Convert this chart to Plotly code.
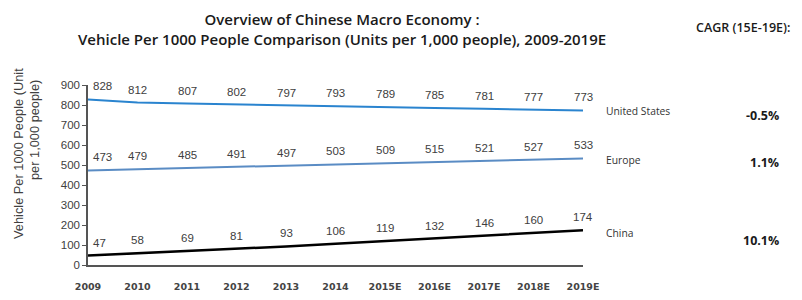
import plotly.graph_objects as go

years = ["2009", "2010", "2011", "2012", "2013", "2014", "2015E", "2016E", "2017E", "2018E", "2019E"]
us = [828, 812, 807, 802, 797, 793, 789, 785, 781, 777, 773]
europe = [473, 479, 485, 491, 497, 503, 509, 515, 521, 527, 533]
china = [47, 58, 69, 81, 93, 106, 119, 132, 146, 160, 174]
series_names = ["United States", "Europe", "China"]
cagr = ["-0.5%", "1.1%", "10.1%"]
y_ticks = list(range(0, 1000, 100))
title_lines = ["Overview of Chinese Macro Economy :",
               "Vehicle Per 1000 People Comparison (Units per 1,000 people), 2009-2019E"]
ytitle_lines = ["Vehicle Per 1000 People (Unit", "per 1,000 people)"]

# page body has an 8px margin; figure is sized to fill the rest of the window
OFF = 8
W, H = 802 - OFF, 300 - OFF
L = 88 - OFF
R = W - (583 - OFF)
T = 85 - OFF
B = H - (265 - OFF)
pw, ph = W - L - R, H - T - B

def px(x):
    return (x - OFF - L) / pw

def py(y):
    return (H - B - (y - OFF)) / ph

xs = list(range(len(years)))

fig = go.Figure()
annotations = []
for vals, col, lw in [(us, "#2a84cf", 2), (europe, "#5a8cc4", 2), (china, "#000000", 2.5)]:
    fig.add_trace(go.Scatter(
        x=xs, y=vals, mode="lines",
        line=dict(color=col, width=lw),
        showlegend=False, hoverinfo="skip",
    ))
    for i, v in enumerate(vals):
        first = i == 0
        annotations.append(dict(
            x=xs[i], y=v, xref="x", yref="y", text=str(v), showarrow=False,
            xanchor="left" if first else "center", xshift=3 if first else 0,
            yanchor="middle", yshift=13,
            font=dict(family="Liberation Sans", size=11.5, color="#404040"),
        ))

# title: one two-line text block anchored at the top of the figure
annotations.append(dict(x=px(342), y=py(OFF), xref="paper", yref="paper",
                        text="<br>".join(title_lines),
                        showarrow=False, font=dict(family="Open Sans", size=15, color="#1a1a1a", weight=600),
                        xanchor="center", yanchor="top", align="center", borderpad=0))
annotations.append(dict(x=px(743), y=py(27), xref="paper", yref="paper", text="CAGR (15E-19E):",
                        showarrow=False, font=dict(family="Open Sans", size=12.5, color="#1a1a1a", weight=600),
                        xanchor="center", yanchor="middle"))
# y-axis title, two rotated lines
annotations.append(dict(x=px(18), y=py(154), xref="paper", yref="paper", text=ytitle_lines[0], textangle=-90,
                        showarrow=False, font=dict(family="Liberation Sans", size=12.8, color="#404040"),
                        xanchor="center", yanchor="middle"))
annotations.append(dict(x=px(34), y=py(130), xref="paper", yref="paper", text=ytitle_lines[1], textangle=-90,
                        showarrow=False, font=dict(family="Liberation Sans", size=12.8, color="#404040"),
                        xanchor="center", yanchor="middle"))

label_y = [111, 160, 233]
cagr_y = [115, 162, 240]
for name, c, ly, cy in zip(series_names, cagr, label_y, cagr_y):
    annotations.append(dict(x=px(604), y=py(ly), xref="paper", yref="paper", text=name,
                            showarrow=False, font=dict(family="Open Sans", size=10.3, color="#333333"),
                            xanchor="left", yanchor="middle"))
    annotations.append(dict(x=px(781), y=py(cy), xref="paper", yref="paper", text=c,
                            showarrow=False, font=dict(family="Open Sans", size=12.5, color="#1a1a1a", weight=700),
                            xanchor="right", yanchor="middle"))

fig.update_layout(
    width=W, height=H, margin=dict(l=L, r=R, t=T, b=B, autoexpand=False),
    paper_bgcolor="white", plot_bgcolor="white",
    annotations=annotations,
    xaxis=dict(range=[0, 10], tickvals=xs, ticktext=years, showgrid=False, zeroline=False,
               showline=True, linecolor="#555555", linewidth=1.5, ticks="",
               tickfont=dict(family="DejaVu Sans", size=9.5, color="#444444", weight=700),
               ticklabelstandoff=12),
    yaxis=dict(range=[0, 900], tickvals=y_ticks, showgrid=False, zeroline=False,
               showline=True, linecolor="#555555", linewidth=1.5, ticks="outside", ticklen=4,
               tickcolor="#555555", tickfont=dict(family="Liberation Sans", size=11.5, color="#404040")),
)
fig.write_html("out.html")
